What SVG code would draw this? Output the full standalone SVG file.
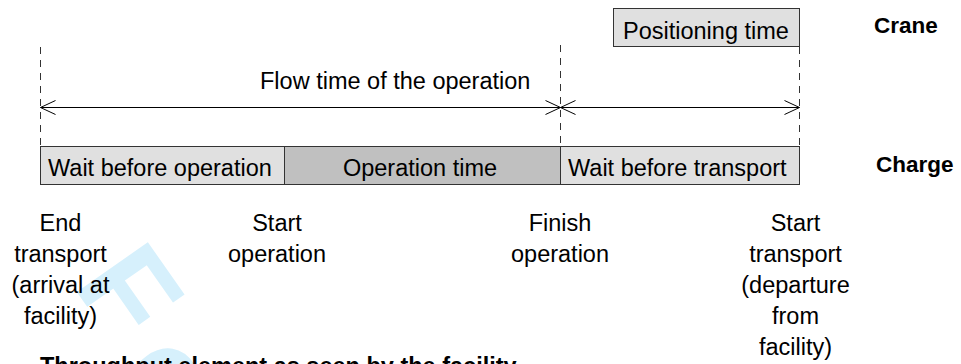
<svg xmlns="http://www.w3.org/2000/svg" width="961" height="364" viewBox="0 0 961 364">
<style>
.t{font-family:"Liberation Sans",Arial,sans-serif;font-size:23.5px;fill:#000}
.c{text-anchor:middle}
.b{font-weight:bold;font-size:22.5px}
.box{stroke:#333;stroke-width:1}
.light{fill:#e0e0e0}
.dark{fill:#c0c0c0}
.dash{stroke:#333;stroke-width:1;stroke-dasharray:7 6;fill:none}
.ln{stroke:#000;stroke-width:1;fill:none}
</style>
<rect width="961" height="364" fill="#fff"/>
<text id="watermark" x="0" y="0" transform="translate(72,285) rotate(55)" font-family="Liberation Sans, Arial, sans-serif" font-weight="bold" font-size="126" fill="#d6f0fc">F<tspan dx="19" dy="13">o</tspan></text>

<g id="connectors">
  <line class="dash" x1="40.5" y1="47" x2="40.5" y2="146"/>
  <line class="dash" x1="560.5" y1="45" x2="560.5" y2="146"/>
  <line class="dash" x1="799.5" y1="47" x2="799.5" y2="146"/>
  <line class="ln" x1="40.5" y1="107.5" x2="799.5" y2="107.5"/>
  <polyline class="ln" points="55.5,100.5 40.5,107.5 55.5,114.5"/>
  <polyline class="ln" points="545.5,100.5 560.5,107.5 545.5,114.5"/>
  <polyline class="ln" points="575.5,100.5 560.5,107.5 575.5,114.5"/>
  <polyline class="ln" points="784.5,100.5 799.5,107.5 784.5,114.5"/>
</g>

<g id="flow-label">
  <text class="t" x="260" y="89">Flow time of the operation</text>
</g>

<g id="positioning">
  <rect class="box light" x="613.5" y="8.5" width="186" height="38"/>
  <text class="t" x="623" y="39">Positioning time</text>
</g>

<g id="wait-operation">
  <rect class="box light" x="40.5" y="146.5" width="244" height="38"/>
  <text class="t" x="48" y="176">Wait before operation</text>
</g>
<g id="operation-time">
  <rect class="box dark" x="284.5" y="146.5" width="276" height="38"/>
  <text class="t c" x="420" y="176">Operation time</text>
</g>
<g id="wait-transport">
  <rect class="box light" x="560.5" y="146.5" width="239" height="38"/>
  <text class="t" x="568" y="176">Wait before transport</text>
</g>

<g id="crane-label"><text class="t b" x="874" y="33">Crane</text></g>
<g id="charge-label"><text class="t b" x="876" y="172">Charge</text></g>

<g id="end-transport">
  <text class="t c" x="60.5" y="231">End</text>
  <text class="t c" x="60.5" y="262">transport</text>
  <text class="t c" x="60.5" y="292.5">(arrival at</text>
  <text class="t c" x="60.5" y="323.5">facility)</text>
</g>
<g id="start-operation">
  <text class="t c" x="277" y="231">Start</text>
  <text class="t c" x="277" y="262">operation</text>
</g>
<g id="finish-operation">
  <text class="t c" x="560" y="231">Finish</text>
  <text class="t c" x="560" y="262">operation</text>
</g>
<g id="start-transport">
  <text class="t c" x="795.5" y="231">Start</text>
  <text class="t c" x="795.5" y="262">transport</text>
  <text class="t c" x="795.5" y="293">(departure</text>
  <text class="t c" x="795.5" y="324">from</text>
  <text class="t c" x="795.5" y="355">facility)</text>
</g>

<g id="caption">
  <text class="t" x="40" y="374" font-weight="bold" font-size="24">Throughput element as seen by the facility</text>
</g>
</svg>
